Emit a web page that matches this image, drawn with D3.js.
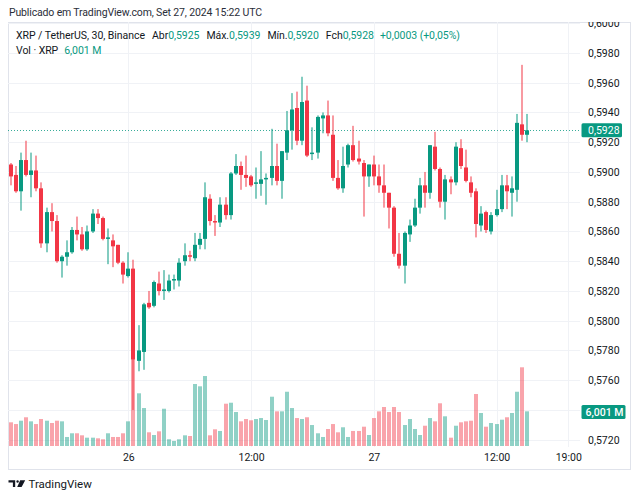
<!DOCTYPE html>
<html><head><meta charset="utf-8">
<script src="https://cdn.jsdelivr.net/npm/d3@7"></script>
<style>
html,body{margin:0;padding:0;background:#fff;}
svg{display:block;font-family:Roboto,"Noto Sans",sans-serif;}
</style></head><body>
<svg id="chart" width="639" height="500"></svg>
<script>
// ---- data (30-minute candles, XRP/USDT Binance, from Sep 25 12:30 UTC) ----
const startTime = Date.UTC(2024, 8, 25, 12, 30);
const barMinutes = 30;
const opens  = [0.5905,0.5898,0.5887,0.5908,0.5898,0.5901,0.5889,0.5852,0.5873,0.5867,
                0.5840,0.5843,0.5846,0.5861,0.5858,0.5848,0.5860,0.5872,0.5869,0.5855,
                0.5854,0.5851,0.5839,0.5830,0.5835,0.5773,0.5779,0.5812,0.5810,0.5825,
                0.5820,0.5820,0.5827,0.5827,0.5840,0.5844,0.5842,0.5851,0.5855,0.5882,
                0.5867,0.5866,0.5878,0.5871,0.5899,0.5904,0.5898,0.5897,0.5892,0.5892,
                0.5895,0.5896,0.5904,0.5894,0.5913,0.5928,0.5943,0.5921,0.5948,0.5912,
                0.5913,0.5936,0.5938,0.5925,0.5896,0.5889,0.5905,0.5918,0.5909,0.5906,
                0.5897,0.5905,0.5897,0.5891,0.5886,0.5876,0.5845,0.5837,0.5858,0.5864,
                0.5876,0.5891,0.5886,0.5917,0.5902,0.5880,0.5895,0.5893,0.5916,0.5903,
                0.5893,0.5887,0.5864,0.5873,0.5860,0.5871,0.5875,0.5891,0.5886,0.5888,
                0.5932,0.5925];
const highs  = [0.5906,0.5904,0.5913,0.5921,0.5913,0.5911,0.5893,0.5876,0.5879,0.5871,
                0.5844,0.5854,0.5863,0.5870,0.5863,0.5864,0.5875,0.5875,0.5870,0.5862,
                0.5858,0.5851,0.5840,0.5846,0.5841,0.5797,0.5812,0.5820,0.5827,0.5833,
                0.5834,0.5831,0.5831,0.5842,0.5852,0.5847,0.5859,0.5859,0.5893,0.5885,
                0.5871,0.5883,0.5883,0.5900,0.5912,0.5907,0.5911,0.5898,0.5903,0.5914,
                0.5899,0.5929,0.5919,0.5914,0.5941,0.5953,0.5954,0.5964,0.5958,0.5930,
                0.5938,0.5940,0.5948,0.5938,0.5908,0.5917,0.5919,0.5931,0.5921,0.5908,
                0.5905,0.5911,0.5905,0.5905,0.5886,0.5877,0.5859,0.5860,0.5868,0.5882,
                0.5896,0.5900,0.5918,0.5927,0.5903,0.5898,0.5897,0.5920,0.5922,0.5915,
                0.5897,0.5889,0.5877,0.5874,0.5873,0.5888,0.5898,0.5898,0.5897,0.5939,
                0.5972,0.5939];
const lows   = [0.5891,0.5886,0.5874,0.5897,0.5883,0.5887,0.5849,0.5846,0.5860,0.5839,
                0.5829,0.5837,0.5845,0.5854,0.5847,0.5847,0.5859,0.5865,0.5854,0.5838,
                0.5836,0.5838,0.5825,0.5829,0.5740,0.5766,0.5767,0.5808,0.5809,0.5817,
                0.5814,0.5819,0.5821,0.5823,0.5837,0.5840,0.5840,0.5848,0.5848,0.5864,
                0.5857,0.5863,0.5868,0.5868,0.5898,0.5888,0.5890,0.5890,0.5882,0.5884,
                0.5878,0.5891,0.5891,0.5882,0.5908,0.5915,0.5918,0.5918,0.5910,0.5908,
                0.5909,0.5926,0.5924,0.5894,0.5888,0.5886,0.5903,0.5907,0.5905,0.5870,
                0.5890,0.5891,0.5886,0.5876,0.5862,0.5843,0.5835,0.5825,0.5853,0.5863,
                0.5872,0.5876,0.5882,0.5901,0.5876,0.5868,0.5885,0.5891,0.5902,0.5893,
                0.5883,0.5856,0.5860,0.5859,0.5858,0.5870,0.5873,0.5875,0.5870,0.5880,
                0.5921,0.5920];
const closes = [0.5897,0.5887,0.5908,0.5898,0.5901,0.5889,0.5852,0.5873,0.5867,0.5840,
                0.5843,0.5846,0.5861,0.5858,0.5848,0.5860,0.5872,0.5869,0.5855,0.5856,
                0.5850,0.5839,0.5831,0.5835,0.5774,0.5780,0.5811,0.5809,0.5826,0.5820,
                0.5821,0.5827,0.5828,0.5839,0.5844,0.5843,0.5851,0.5855,0.5883,0.5867,
                0.5866,0.5878,0.5871,0.5899,0.5904,0.5898,0.5896,0.5891,0.5893,0.5895,
                0.5896,0.5904,0.5894,0.5914,0.5928,0.5942,0.5921,0.5947,0.5911,0.5913,
                0.5937,0.5938,0.5926,0.5896,0.5889,0.5904,0.5918,0.5908,0.5907,0.5897,
                0.5905,0.5897,0.5891,0.5886,0.5876,0.5845,0.5837,0.5859,0.5864,0.5876,
                0.5891,0.5886,0.5918,0.5902,0.5880,0.5895,0.5893,0.5917,0.5904,0.5894,
                0.5886,0.5865,0.5872,0.5861,0.5871,0.5875,0.5891,0.5887,0.5889,0.5933,
                0.5925,0.5928];
// volume in millions of XRP
const volumes = [4.10,3.80,4.38,4.97,4.27,3.80,4.67,4.38,3.98,4.38,
                 4.27,1.56,2.20,2.20,1.85,1.44,1.44,1.33,1.16,2.20,
                 1.56,1.56,2.20,4.27,15.2,9.12,6.57,2.37,1.90,2.54,
                 6.45,1.16,0.87,1.16,1.85,1.73,10.73,10.33,12.11,1.85,
                 2.89,2.60,7.32,7.49,5.88,4.27,4.67,4.45,4.67,4.84,
                 4.50,8.53,6.00,6.00,9.39,6.57,4.84,4.67,4.97,3.63,
                 2.20,1.56,2.94,3.80,2.37,3.24,1.56,2.60,2.60,3.34,
                 1.90,4.84,6.00,6.75,5.88,6.75,5.88,3.63,4.67,2.94,
                 1.90,3.51,4.84,4.27,7.39,5.14,1.44,3.51,4.10,4.27,
                 4.38,9.00,5.71,3.34,3.98,3.80,4.55,4.97,5.71,9.39,
                 13.62,6.001];
const priceTicks = [0.5720,0.5740,0.5760,0.5780,0.5800,0.5820,0.5840,0.5860,0.5880,
                    0.5900,0.5920,0.5940,0.5960,0.5980,0.6000];
const timeTicks = [Date.UTC(2024,8,26,0,0), Date.UTC(2024,8,26,12,0), Date.UTC(2024,8,27,0,0),
                   Date.UTC(2024,8,27,12,0), Date.UTC(2024,8,27,19,0)];
const timeTickLabels = ["26","12:00","27","12:00","19:00"];
const publishedText = "Publicado em TradingView.com, Set 27, 2024 15:22 UTC";
const symbolTitle = "XRP / TetherUS, 30, Binance";
const ohlcLabels = ["Abr","Máx.","Mín.","Fch"];
const volTitle = "Vol · XRP";
const brandText = "TradingView";

// ---- setup ----
const W = 639, H = 500;
const GREEN = "#089981", RED = "#f23645";
const GREEN_VOL = "rgba(8,153,129,0.45)", RED_VOL = "rgba(242,54,69,0.45)";
const TEXT = "#131722", GRID = "#f0f2f6", BORDER = "#e0e3eb";
const frame = {left: 8, top: 22, right: 630, bottom: 469};
const plotRight = 580, plotBottom = 447;

const times = opens.map((_, i) => startTime + i * barMinutes * 60000);
const candles = opens.map((o, i) => ({t: times[i], o, h: highs[i], l: lows[i], c: closes[i], v: volumes[i]}));

const x = d3.scaleUtc().domain([times[0], times[times.length - 1]]).range([10.7, 527.3]);
const y = d3.scaleLinear().domain([0.5720, 0.5920]).range([439.7, 142.2]);
const vy = d3.scaleLinear().domain([0, 13.62]).range([446, 367.3]);
const fmt = v => d3.format(".4f")(v).replace(".", ",");

const svg = d3.select("#chart");
svg.append("rect").attr("width", W).attr("height", H).attr("fill", "#fff");

const defs = svg.append("defs");
defs.append("clipPath").attr("id", "plotClip").append("rect")
  .attr("x", frame.left).attr("y", frame.top).attr("width", plotRight - frame.left).attr("height", plotBottom - frame.top);
defs.append("clipPath").attr("id", "axisClip").append("rect")
  .attr("x", plotRight).attr("y", frame.top).attr("width", frame.right - plotRight).attr("height", plotBottom - frame.top);

// header
svg.append("text").attr("x", 9).attr("y", 16).attr("font-size", 10.5).attr("letter-spacing", -0.15)
  .attr("fill", "#2a2e39").text(publishedText);

// frame
svg.append("rect").attr("x", frame.left + 0.5).attr("y", frame.top + 0.5)
  .attr("width", frame.right - frame.left).attr("height", frame.bottom - frame.top)
  .attr("fill", "none").attr("stroke", BORDER);

const plot = svg.append("g").attr("clip-path", "url(#plotClip)");

// grid
plot.append("g").selectAll("line").data(priceTicks).join("line")
  .attr("x1", frame.left).attr("x2", plotRight)
  .attr("y1", d => Math.round(y(d)) + 0.5).attr("y2", d => Math.round(y(d)) + 0.5)
  .attr("stroke", GRID);
plot.append("g").selectAll("line").data(timeTicks).join("line")
  .attr("x1", d => Math.round(x(d)) + 0.5).attr("x2", d => Math.round(x(d)) + 0.5)
  .attr("y1", frame.top).attr("y2", plotBottom)
  .attr("stroke", GRID);

// volume
const bw = 4;
plot.append("g").selectAll("rect").data(candles).join("rect")
  .attr("x", d => Math.round(x(d.t)) - bw / 2)
  .attr("width", bw)
  .attr("y", d => vy(d.v))
  .attr("height", d => vy(0) - vy(d.v))
  .attr("fill", d => d.c >= d.o ? GREEN_VOL : RED_VOL);

// last price line
const last = candles[candles.length - 1];
const prev = candles[candles.length - 2];
plot.append("line")
  .attr("x1", frame.left).attr("x2", plotRight)
  .attr("y1", Math.round(y(last.c)) + 0.5).attr("y2", Math.round(y(last.c)) + 0.5)
  .attr("stroke", GREEN).attr("stroke-width", 1).attr("stroke-dasharray", "1,2").attr("opacity", 0.8);

// candles
const cg = plot.append("g").selectAll("g").data(candles).join("g");
cg.append("rect")
  .attr("x", d => Math.round(x(d.t)) - 0.5)
  .attr("width", 1)
  .attr("y", d => y(d.h))
  .attr("height", d => Math.max(1, y(d.l) - y(d.h)))
  .attr("fill", d => d.c >= d.o ? GREEN : RED);
cg.append("rect")
  .attr("x", d => Math.round(x(d.t)) - bw / 2)
  .attr("width", bw)
  .attr("y", d => y(Math.max(d.o, d.c)))
  .attr("height", d => Math.max(1, Math.abs(y(d.o) - y(d.c))))
  .attr("fill", d => d.c >= d.o ? GREEN : RED);

// price axis
const yAxis = d3.axisRight(y).tickValues(priceTicks.filter(v => Math.abs(v - 0.5740) > 1e-9))
  .tickFormat(fmt).tickSize(0).tickPadding(0);
const axisHolder = svg.append("g").attr("clip-path", "url(#axisClip)");
const yg = axisHolder.append("g").attr("transform", `translate(588,0)`).call(yAxis);
yg.select(".domain").remove();
yg.selectAll("text").attr("font-size", 10.5).attr("fill", TEXT).attr("font-family", "Roboto");

// time axis
const xAxis = d3.axisBottom(x).tickValues(timeTicks)
  .tickFormat((d, i) => timeTickLabels[i]).tickSize(0).tickPadding(0);
const xg = svg.append("g").attr("transform", `translate(0,453.5)`).call(xAxis);
xg.select(".domain").remove();
xg.selectAll("text").attr("font-size", 10.5).attr("fill", TEXT).attr("font-family", "Roboto");

// price label box
const plY = y(last.c);
svg.append("rect").attr("x", 581.5).attr("y", plY - 7).attr("width", 40.5).attr("height", 14)
  .attr("rx", 1.5).attr("fill", GREEN);
svg.append("text").attr("x", 588).attr("y", plY).attr("dy", "0.35em")
  .attr("font-size", 10.5).attr("fill", "#fff").text(fmt(last.c));

// volume label box
const vY = 412;
svg.append("rect").attr("x", 581.5).attr("y", vY - 7).attr("width", 44).attr("height", 14)
  .attr("rx", 1.5).attr("fill", GREEN);
svg.append("text").attr("x", 585.5).attr("y", vY).attr("dy", "0.35em")
  .attr("font-size", 10.5).attr("fill", "#fff").attr("font-weight", 500)
  .text(d3.format(".3f")(last.v).replace(".", ",") + " M");

// legend
const chg = last.c - prev.c;
const lg = svg.append("text").attr("x", 16).attr("y", 39).attr("font-size", 10.5)
  .attr("letter-spacing", -0.05).attr("fill", TEXT);
lg.append("tspan").text(symbolTitle);
const ohlc = [last.o, last.h, last.l, last.c];
ohlcLabels.forEach((lab, i) => {
  lg.append("tspan").attr("dx", i === 0 ? 7 : 7).text(lab);
  lg.append("tspan").attr("fill", GREEN).text(fmt(ohlc[i]));
});
lg.append("tspan").attr("dx", 6).attr("fill", GREEN)
  .text((chg >= 0 ? "+" : "") + fmt(chg) + " (" + (chg >= 0 ? "+" : "") + d3.format(".2f")(chg / prev.c * 100).replace(".", ",") + "%)");

const lg2 = svg.append("text").attr("x", 16).attr("y", 54).attr("font-size", 10.5)
  .attr("letter-spacing", -0.05).attr("fill", TEXT);
lg2.append("tspan").text(volTitle);
lg2.append("tspan").attr("dx", 6).attr("fill", GREEN).text(d3.format(".3f")(last.v).replace(".", ",") + " M");

// footer brand
const logo = svg.append("g").attr("fill", "#131722");
logo.append("path").attr("d", "M8.5,480.3 H15.2 V487 H12.9 V482.5 H8.5 Z");
logo.append("circle").attr("cx", 17.6).attr("cy", 481.5).attr("r", 1.2);
logo.append("path").attr("d", "M20.2,480.3 H25.2 L21.6,487 H17.2 Z");
svg.append("text").attr("x", 28.5).attr("y", 487.5).attr("font-size", 11.5).attr("fill", "#131722").text(brandText);
</script>
</body></html>
